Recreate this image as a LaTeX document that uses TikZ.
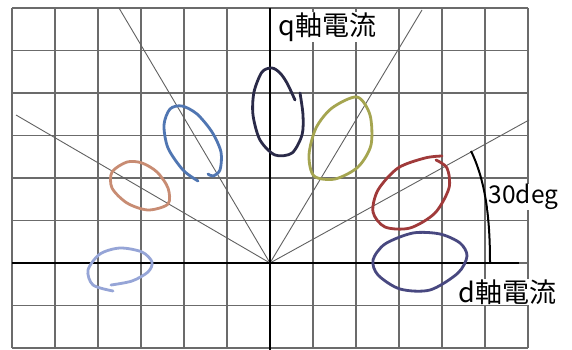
\documentclass[tikz,border=0pt]{standalone}
\usepackage{fontspec}
\setmainfont{Noto Sans CJK JP}
\begin{document}
\begin{tikzpicture}[x=1pt,y=-1pt,
  gridline/.style={draw=black!58,line width=1.1pt},
  ray/.style={draw=black!62,line width=0.9pt},
  axisline/.style={draw=black,line width=2.6pt},
  loop/.style={line width=2.8pt,line cap=round,line join=round},
  lbl/.style={fill=white,inner sep=0.5pt,anchor=west,text=black}]
\definecolor{cnavy}{RGB}{42,42,72}
\definecolor{colive}{RGB}{165,165,80}
\definecolor{cred}{RGB}{160,58,58}
\definecolor{cindigo}{RGB}{72,72,128}
\definecolor{cblue}{RGB}{80,118,178}
\definecolor{csalmon}{RGB}{200,140,115}
\definecolor{clav}{RGB}{150,165,215}
\useasboundingbox (0,0) rectangle (572,350);
\fill[white] (0,0) rectangle (572,350);
% grid
\foreach \k in {0,...,12} \draw[gridline] ({12+43*\k},8) -- ({12+43*\k},348);
\foreach \k in {0,...,8} \draw[gridline] (12,{8+42.5*\k}) -- (528,{8+42.5*\k});
% coordinates
\coordinate (O) at (270,263);
\coordinate (r30) at (529,120);
\coordinate (r60) at (422,10);
\coordinate (r120) at (119,8);
\coordinate (r150) at (16,115);
\coordinate (xl) at (12,263);
\coordinate (xr) at (519,263);
\coordinate (yt) at (270,8);
\coordinate (yb) at (270,350);
\coordinate (a0) at (490,263);
\coordinate (a30) at (471,151);
% rays
\draw[ray] (O) -- (r30);
\draw[ray] (O) -- (r60);
\draw[ray] (O) -- (r120);
\draw[ray] (O) -- (r150);
% axes
\draw[axisline] (xl) -- (xr);
\draw[axisline] (yt) -- (yb);
% angle arc
\draw[line width=2pt] (a0) .. controls (490,215) and (485,180) .. (a30);
% loops
\draw[loop,cnavy] plot[smooth] coordinates {(295,100) (287,83) (280,73) (272,68) (262,72) (254,92) (253,115) (260,140) (275,155) (292,153) (302,135) (303,115) (300,93)};
\draw[loop,colive] plot[smooth cycle] coordinates {(357,97) (370,115) (371,145) (358,167) (335,179) (314,176) (309,155) (316,128) (332,108)};
\draw[loop,cred] plot[smooth] coordinates {(442,156) (425,158) (398,168) (378,190) (373,212) (385,227) (410,228) (435,213) (449,188) (447,168) (436,160)};
\draw[loop,cindigo] plot[smooth cycle] coordinates {(413,233) (440,234) (460,243) (467,256) (458,273) (430,290) (400,289) (378,275) (373,260) (385,244)};
\draw[loop,cblue] plot[smooth] coordinates {(198,181) (183,170) (168,148) (164,125) (170,109) (182,106) (197,114) (212,132) (221,152) (220,170) (213,176) (208,174)};
\draw[loop,csalmon] plot[smooth cycle] coordinates {(127,162) (112,172) (112,188) (127,203) (148,210) (168,204) (168,188) (157,172) (142,163)};
\draw[loop,clav] plot[smooth] coordinates {(111,285) (132,281) (148,272) (152,262) (142,252) (120,248) (100,254) (88,270) (93,285) (113,291)};
% labels
\node[lbl,font=\fontsize{27}{29}\selectfont] (qlab) at (278,27) {q軸電流};
\node[lbl,font=\fontsize{27}{29}\selectfont] (dlab) at (458,292) {d軸電流};
\node[lbl,font=\fontsize{24.5}{26}\selectfont] (deglab) at (488,197) {30deg};
\end{tikzpicture}
\end{document}
